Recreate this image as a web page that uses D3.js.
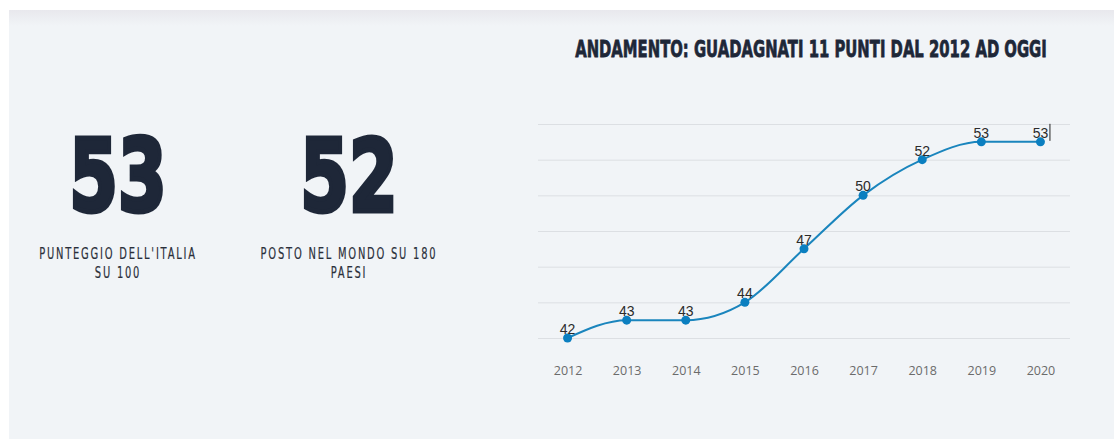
<!DOCTYPE html>
<html>
<head>
<meta charset="utf-8">
<script src="https://cdn.jsdelivr.net/npm/d3@7"></script>
<style>
  html, body { margin: 0; padding: 0; background: #ffffff; }
  svg { display: block; }
</style>
</head>
<body>
<svg id="chart" width="1114" height="439"></svg>
<script>
// Punteggio dell'Italia per anno
const years = ["2012", "2013", "2014", "2015", "2016", "2017", "2018", "2019", "2020"];
const scores = [42, 43, 43, 44, 47, 50, 52, 53, 53];
const gridTicks = [42, 44, 46, 48, 50, 52, 54];

// Riquadri con i numeri chiave
const keyNumbers = ["53", "52"];
const keyLabels = [["PUNTEGGIO DELL'ITALIA", "SU 100"], ["POSTO NEL MONDO SU 180", "PAESI"]];
const title = "ANDAMENTO: GUADAGNATI 11 PUNTI DAL 2012 AD OGGI";

const svg = d3.select("#chart");
const defs = svg.append("defs");
const grad = defs.append("linearGradient").attr("id", "topShade")
  .attr("x1", 0).attr("y1", 0).attr("x2", 0).attr("y2", 1);
grad.append("stop").attr("offset", "0%").attr("stop-color", "#e8e8ed");
grad.append("stop").attr("offset", "100%").attr("stop-color", "#f1f4f7");

// pannello di sfondo
svg.append("rect").attr("x", 9).attr("y", 10).attr("width", 1105).attr("height", 429).attr("fill", "#f1f4f7");
svg.append("rect").attr("x", 9).attr("y", 10).attr("width", 1105).attr("height", 16).attr("fill", "url(#topShade)");

const condensed = "'DejaVu Sans', sans-serif";
const ink = "#1e2738";

// numeri grandi, compressi in orizzontale
const boxCenters = [118, 349];
keyNumbers.forEach((n, i) => {
  svg.append("text")
    .attr("transform", `translate(${boxCenters[i]},210.5) scale(0.7,1)`)
    .attr("text-anchor", "middle")
    .attr("font-family", condensed)
    .attr("font-weight", "bold")
    .attr("font-size", 100)
    .attr("fill", ink)
    .attr("stroke", ink)
    .attr("stroke-width", 5)
    .attr("stroke-linejoin", "miter")
    .text(n);
  keyLabels[i].forEach((line, j) => {
    svg.append("text")
      .attr("transform", `translate(${boxCenters[i]},${258.5 + j * 19.5}) scale(0.64,1)`)
      .attr("text-anchor", "middle")
      .attr("font-family", condensed)
      .attr("font-size", 15.5)
      .attr("letter-spacing", 2.8)
      .attr("fill", "#2a2f3a")
      .attr("stroke", "#2a2f3a")
      .attr("stroke-width", 0.2)
      .text(line);
  });
});

// titolo del grafico
svg.append("text")
  .attr("transform", "translate(811,57) scale(0.645,1)")
  .attr("text-anchor", "middle")
  .attr("font-family", condensed)
  .attr("font-weight", "bold")
  .attr("font-size", 23)
  .attr("fill", ink)
  .attr("stroke", ink)
  .attr("stroke-width", 0.8)
  .text(title);

// scale
const x = d3.scalePoint().domain(years).range([538, 1070]).padding(0.5);
const y = d3.scaleLinear().domain([42, 54]).range([338, 124]);

// griglia orizzontale
svg.append("g").selectAll("line").data(gridTicks).join("line")
  .attr("x1", 538).attr("x2", 1070)
  .attr("y1", d => y(d) + 0.5).attr("y2", d => y(d) + 0.5)
  .attr("stroke", "#dcdfe3").attr("stroke-width", 1);

// asse x
const xAxis = svg.append("g").attr("transform", "translate(0,358)")
  .call(d3.axisBottom(x).tickSize(0).tickPadding(8));
xAxis.select(".domain").remove();
xAxis.selectAll("text")
  .attr("font-family", "'Open Sans', sans-serif")
  .attr("font-size", 12.5)
  .attr("fill", "#6b6b6b");

const data = years.map((yr, i) => ({ yr, v: scores[i] }));

// linea
svg.append("path")
  .datum(data)
  .attr("fill", "none")
  .attr("stroke", "#1a85bd")
  .attr("stroke-width", 2)
  .attr("d", d3.line().x(d => x(d.yr)).y(d => y(d.v)).curve(d3.curveMonotoneX));

// punti
svg.append("g").selectAll("circle").data(data).join("circle")
  .attr("cx", d => x(d.yr)).attr("cy", d => y(d.v))
  .attr("r", 4.5).attr("fill", "#0b7fc0");

// etichette dei valori
svg.append("g").selectAll("text").data(data).join("text")
  .attr("x", d => x(d.yr)).attr("y", d => y(d.v) - 4)
  .attr("text-anchor", "middle")
  .attr("font-family", "'Liberation Sans', Arial, sans-serif")
  .attr("font-size", 14)
  .attr("fill", "#2b2b2b")
  .text(d => d.v);

// cursore dopo l'ultima etichetta
const last = data[data.length - 1];
svg.append("line")
  .attr("x1", x(last.yr) + 9.5).attr("x2", x(last.yr) + 9.5)
  .attr("y1", y(last.v) - 18).attr("y2", y(last.v) - 1)
  .attr("stroke", "#222").attr("stroke-width", 1);
</script>
</body>
</html>
